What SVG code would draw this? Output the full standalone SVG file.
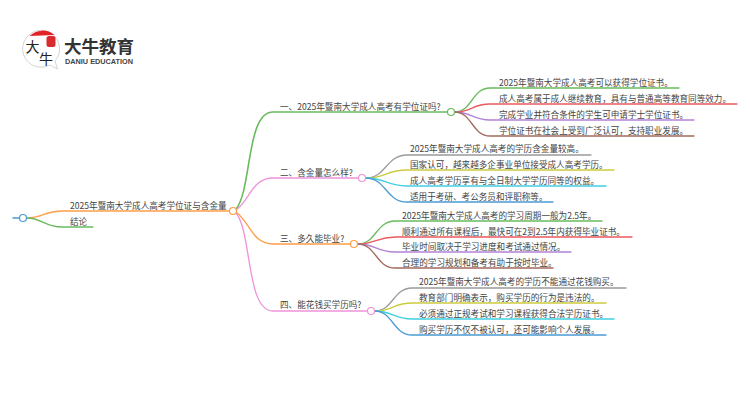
<svg xmlns="http://www.w3.org/2000/svg" width="750" height="410" viewBox="0 0 750 410">
<style>
text{font-family:"Noto Sans CJK SC","Liberation Sans",sans-serif;font-size:8.6px;fill:#444}
.c{fill:none;stroke-width:1.3;stroke-linecap:round}
.n{fill:#fff;stroke-width:1.2}
.g{stroke:#67bc5c}.r{stroke:#ea5a5f}.p{stroke:#b283d8}.b{stroke:#a3695c}.y{stroke:#9a9a9a}.l{stroke:#cbcb3f}.a{stroke:#3fd0e2}.u{stroke:#4a9bd4}.o{stroke:#ff9d45}.k{stroke:#ef93da}
.m{font-size:14px;fill:#222}
</style>
<rect width="750" height="410" fill="#fff"/>
<g id="logo">
<path d="M50,65A18.500,18.500 0 1 1 55,61L57.500,69Z" fill="#fff" stroke="#c9c9c9" stroke-width="0.8"/>
<path d="M29.500,36A18.500,18.500 0 0 1 54.500,35Z" fill="#e42327"/>
<rect x="46.500" y="36" width="9" height="11" rx="2.500" fill="#d92b2f"/>
<text class="m" x="25.500" y="52">大</text>
<text class="m" x="39" y="64">牛</text>
<text x="64" y="52.500" style="font-size:17.500px;font-weight:700;fill:#333">大牛教育</text>
<text x="65" y="64" style="font-size:7.300px;font-family:'Liberation Sans',sans-serif;font-weight:700;fill:#444">DANIU EDUCATION</text>
</g>
<g id="connectors">
<path class="c u" d="M13,218H20"/>
<path class="c o" d="M27,218C42,218 45,211 62,211H229"/>
<path class="c g" d="M27,218C42,218 45,227 62,227H93"/>
<path class="c g" style="stroke-width:1.600" d="M236,209C252,190 246,112 273,112H447"/>
<path class="c k" d="M236,210C250,200 252,178 273,178H358"/>
<path class="c o" d="M236,212C250,222 252,244 273,244H350"/>
<path class="c k" d="M236,213C252,232 246,311 273,311H367"/>
<path class="c g" d="M455,112C472,112 472,88 490,88H679"/>
<path class="c r" d="M455,112C472,112 472,104 490,104H737"/>
<path class="c p" d="M455,112C472,112 472,120 490,120H694"/>
<path class="c b" d="M455,112C472,112 472,136 490,136H694"/>
<path class="c y" d="M366,178C386,178 386,155 407,155H591"/>
<path class="c l" d="M366,178C386,178 386,170 407,170H614"/>
<path class="c a" d="M366,178C386,178 386,186 407,186H606"/>
<path class="c u" d="M366,178C386,178 386,202 407,202H553"/>
<path class="c g" d="M358,244C376,244 376,221 395,221H602"/>
<path class="c r" d="M358,244C376,244 376,237 395,237H632"/>
<path class="c p" d="M358,244C376,244 376,252 395,252H571"/>
<path class="c b" d="M358,244C376,244 376,268 395,268H553"/>
<path class="c y" d="M375,311C393,311 393,288 412,288H626"/>
<path class="c l" d="M375,311C393,311 393,303 412,303H606"/>
<path class="c a" d="M375,311C393,311 393,319 412,319H614"/>
<path class="c u" d="M375,311C393,311 393,335 412,335H606"/>
</g>
<g id="root"><circle class="n u" cx="23" cy="218" r="3.500"/></g>
<g id="main"><text x="70" y="209">2025年暨南大学成人高考学位证与含金量</text><circle class="n o" cx="233" cy="211" r="3.500"/></g>
<g id="conclusion"><text x="70" y="225">结论</text></g>
<g id="q1"><text x="280" y="110">一、2025年暨南大学成人高考有学位证吗?</text><circle class="n g" cx="451" cy="112" r="3.500"/></g>
<g id="q2"><text x="280" y="176">二、含金量怎么样?</text><circle class="n k" cx="362" cy="178" r="3.500"/></g>
<g id="q3"><text x="280" y="242">三、多久能毕业?</text><circle class="n o" cx="354" cy="244" r="3.500"/></g>
<g id="q4"><text x="280" y="308">四、能花钱买学历吗?</text><circle class="n k" cx="371" cy="311" r="3.500"/></g>
<g id="a11"><text x="499" y="86">2025年暨南大学成人高考可以获得学位证书。</text></g>
<g id="a12"><text x="499" y="102">成人高考属于成人继续教育&#xFF0C;具有与普通高等教育同等效力。</text></g>
<g id="a13"><text x="499" y="118">完成学业并符合条件的学生可申请学士学位证书。</text></g>
<g id="a14"><text x="499" y="134">学位证书在社会上受到广泛认可&#xFF0C;支持职业发展。</text></g>
<g id="a21"><text x="410" y="152">2025年暨南大学成人高考的学历含金量较高。</text></g>
<g id="a22"><text x="410" y="168">国家认可&#xFF0C;越来越多企事业单位接受成人高考学历。</text></g>
<g id="a23"><text x="410" y="184">成人高考学历享有与全日制大学学历同等的权益。</text></g>
<g id="a24"><text x="410" y="200">适用于考研、考公务员和评职称等。</text></g>
<g id="a31"><text x="402" y="219">2025年暨南大学成人高考的学习周期一般为2.5年。</text></g>
<g id="a32"><text x="402" y="235">顺利通过所有课程后&#xFF0C;最快可在2到2.5年内获得毕业证书。</text></g>
<g id="a33"><text x="402" y="250">毕业时间取决于学习进度和考试通过情况。</text></g>
<g id="a34"><text x="402" y="266">合理的学习规划和备考有助于按时毕业。</text></g>
<g id="a41"><text x="419" y="285">2025年暨南大学成人高考的学历不能通过花钱购买。</text></g>
<g id="a42"><text x="419" y="301">教育部门明确表示&#xFF0C;购买学历的行为是违法的。</text></g>
<g id="a43"><text x="419" y="317">必须通过正规考试和学习课程获得合法学历证书。</text></g>
<g id="a44"><text x="419" y="333">购买学历不仅不被认可&#xFF0C;还可能影响个人发展。</text></g>
</svg>
